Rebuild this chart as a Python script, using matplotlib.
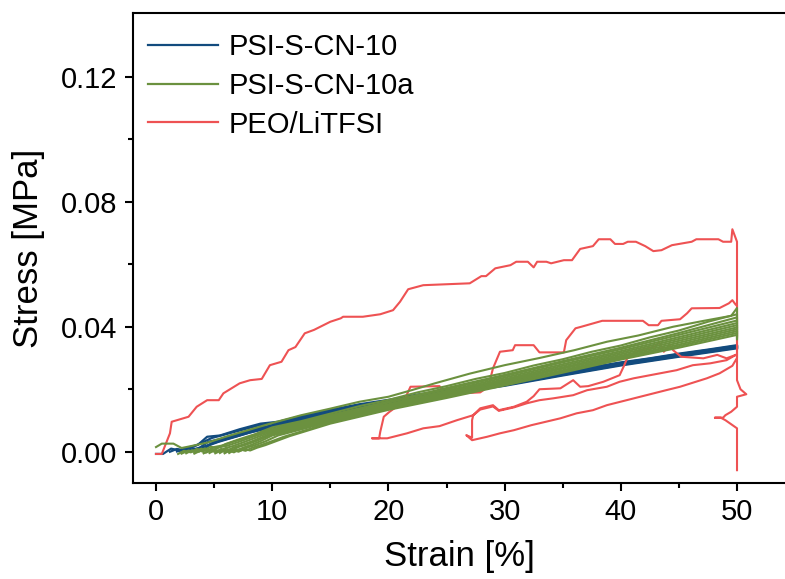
"""
Cyclic tensile test: stress-strain loops of PSI-S-CN-10, PSI-S-CN-10a and PEO/LiTFSI.
Writes out.png (785 x 579 px).
"""

import numpy as np
import matplotlib.pyplot as plt
from matplotlib.lines import Line2D
from matplotlib.ticker import FixedLocator, FormatStrFormatter

# ── Global style ──────────────────────────────────────────────────────────────
plt.rcParams.update({
    "font.family":      ["Liberation Sans", "DejaVu Sans"],
    "font.size":        21,
    "axes.linewidth":   1.5,
    "xtick.labelsize":  21,
    "ytick.labelsize":  21,
    "axes.labelsize":   25,
    "legend.fontsize":  21,
})

BLUE  = "#124B7E"
GREEN = "#6B913F"
RED   = "#EE5253"

# ── Data: PEO/LiTFSI (one continuous trace, split into cycles) ────────────────
red_load1_x = [0, 0.5, 1.2, 1.35, 2.8, 3.5, 4.4, 5.4, 5.8, 7.2, 8.1, 9.1, 9.8, 10.8,
               11.4, 12.0, 12.8, 13.6, 15.0, 15.9, 16.1, 17.8, 19.3, 20.4, 21.0, 21.7,
               23.0, 27.0, 28.0, 28.4, 29.2, 30.5, 31.0, 32.0, 32.5, 32.8, 33.6, 34.0,
               35.1, 35.8, 36.5, 37.6, 38.1, 39.1, 39.5, 40.2, 40.6, 41.3, 42.1, 42.8,
               43.5, 44.4, 46.1, 46.5, 48.4, 48.8, 49.5, 49.6, 50.0]
red_load1_y = [-0.0007, -0.0007, 0.0059, 0.0096, 0.0112, 0.0144, 0.0165, 0.0165, 0.0187,
               0.0219, 0.0229, 0.0233, 0.0277, 0.0288, 0.0325, 0.0335, 0.0379, 0.0390,
               0.0416, 0.0427, 0.0432, 0.0432, 0.0440, 0.0453, 0.0480, 0.0520, 0.0533,
               0.0539, 0.0562, 0.0562, 0.0587, 0.0597, 0.0608, 0.0608, 0.0590, 0.0608,
               0.0608, 0.0603, 0.0613, 0.0613, 0.0649, 0.0658, 0.0680, 0.0680, 0.0665,
               0.0665, 0.0672, 0.0672, 0.0658, 0.0642, 0.0645, 0.0661, 0.0672, 0.0680,
               0.0680, 0.0672, 0.0672, 0.0712, 0.0672]

red_unload1_x = [50.0, 49.9, 49.1, 47.7, 46.2, 44.8, 42.5, 41.1, 39.9, 38.8, 37.1, 35.9,
                 34.2, 33.0, 31.9, 30.8, 29.5, 29.0, 27.9, 27.3, 25.9, 24.4, 23.0, 21.6,
                 19.9, 18.6]
red_unload1_y = [0.0310, 0.0310, 0.0293, 0.0283, 0.0277, 0.0261, 0.0245, 0.0235, 0.0224,
                 0.0208, 0.0197, 0.0181, 0.0171, 0.0165, 0.0155, 0.0142, 0.0131, 0.0145,
                 0.0135, 0.0117, 0.0101, 0.0082, 0.0075, 0.0059, 0.0043, 0.0043]

red_load2_x = [19.2, 19.3, 19.6, 20.1, 21.3, 21.9, 24.4, 24.7, 26.3, 27.9, 28.6, 29.0,
               29.6, 30.7, 30.9, 32.5, 33.0, 35.1, 35.3, 36.1, 36.6, 38.4, 41.9, 42.4,
               43.2, 43.5, 45.1, 45.7, 46.1, 48.5, 49.3, 49.6, 49.9, 50.0]
red_load2_y = [0.0043, 0.0064, 0.0112, 0.0128, 0.0160, 0.0208, 0.0210, 0.0190, 0.0187,
               0.0190, 0.0208, 0.0267, 0.0320, 0.0325, 0.0341, 0.0341, 0.0318, 0.0318,
               0.0357, 0.0395, 0.0400, 0.0419, 0.0419, 0.0405, 0.0405, 0.0419, 0.0424,
               0.0443, 0.0459, 0.0460, 0.0475, 0.0485, 0.0470, 0.0470]

red_unload2_x = [50.0, 49.6, 48.5, 47.4, 45.1, 43.9, 42.2, 40.5, 38.8, 37.6, 36.2, 34.8,
                 33.0, 32.3, 30.8, 29.6, 28.5, 27.2, 26.7]
red_unload2_y = [0.0300, 0.0275, 0.0251, 0.0235, 0.0208, 0.0197, 0.0181, 0.0165, 0.0149,
                 0.0133, 0.0123, 0.0107, 0.0091, 0.0085, 0.0069, 0.0059, 0.0048, 0.0037,
                 0.0053]

red_load3_x = [27.2, 27.2, 27.3, 27.9, 29.0, 29.5, 30.8, 31.9, 32.5, 33.0, 34.8, 35.9,
               36.5, 37.2, 38.5, 39.9, 40.3, 40.6, 41.6, 42.9, 43.3, 43.7, 44.2, 44.5,
               45.2, 47.1, 48.3, 49.1, 49.9, 50.0]
red_load3_y = [0.0045, 0.0101, 0.0117, 0.0139, 0.0149, 0.0133, 0.0144, 0.0160, 0.0178,
               0.0200, 0.0203, 0.0229, 0.0208, 0.0210, 0.0224, 0.0245, 0.0277, 0.0304,
               0.0325, 0.0336, 0.0350, 0.0320, 0.0341, 0.0325, 0.0304, 0.0299, 0.0310,
               0.0299, 0.0310, 0.0310]

red_tail_x = [50.0, 50.3, 50.8, 50.0, 50.0, 49.5, 49.0, 48.8, 48.1, 48.6, 49.0, 50.0, 50.0]
red_tail_y = [0.0229, 0.0200, 0.0184, 0.0176, 0.0144, 0.0128, 0.0117, 0.0109, 0.0109,
              0.0109, 0.0101, 0.0075, -0.0059]

# ── Data: PSI-S-CN-10 (blue cycles) ───────────────────────────────────────────
blue_x = [
    [0, 0.6, 1.3, 2.0, 2.8, 3.6, 4.4, 5.5, 7.2, 9.0, 10.5, 12.4, 15, 17.5, 20, 22.5, 25,
     27.5, 30, 32.5, 35, 37.5, 40, 42.5, 45, 47.5, 50],
    [1.2, 1.8, 2.5, 3.2, 4.0, 4.8, 6.0, 7.5, 9.0, 10.5, 12.5, 15, 20, 25, 30, 35, 40, 45, 50],
    [1.8, 2.4, 3.0, 3.8, 4.5, 5.5, 6.5, 8.0, 10, 12.5, 15, 20, 25, 30, 35, 40, 45, 50],
    [2.2, 2.9, 3.6, 4.3, 5.2, 6.3, 7.5, 9.0, 10.5, 12.5, 15, 20, 25, 30, 35, 40, 45, 50],
    [2.6, 3.3, 4.0, 4.8, 5.8, 7.0, 8.5, 10, 12.5, 15, 20, 25, 30, 35, 40, 45, 50],
    [3.0, 3.7, 4.5, 5.4, 6.5, 8.0, 10, 12.5, 15, 20, 25, 30, 35, 40, 45, 50],
]
blue_y = [
    [-0.0007, -0.0007, 0.0010, 0.0004, 0.0014, 0.0022, 0.0048, 0.0052, 0.0072, 0.0090,
     0.0096, 0.0113, 0.0134, 0.0152, 0.0166, 0.0183, 0.0195, 0.0210, 0.0221, 0.0239,
     0.0254, 0.0271, 0.0286, 0.0299, 0.0314, 0.0327, 0.0341],
    [0.0000, 0.0009, 0.0004, 0.0016, 0.0030, 0.0044, 0.0056, 0.0071, 0.0086, 0.0094,
     0.0110, 0.0131, 0.0164, 0.0193, 0.0219, 0.0252, 0.0284, 0.0312, 0.0339],
    [0.0001, 0.0006, 0.0002, 0.0014, 0.0032, 0.0040, 0.0052, 0.0068, 0.0085, 0.0106,
     0.0128, 0.0162, 0.0191, 0.0217, 0.0250, 0.0282, 0.0310, 0.0337],
    [0.0002, 0.0007, 0.0003, 0.0018, 0.0034, 0.0045, 0.0058, 0.0075, 0.0088, 0.0104,
     0.0126, 0.0160, 0.0189, 0.0215, 0.0248, 0.0280, 0.0308, 0.0335],
    [0.0002, 0.0010, 0.0006, 0.0026, 0.0038, 0.0050, 0.0066, 0.0080, 0.0102, 0.0124,
     0.0158, 0.0187, 0.0213, 0.0246, 0.0278, 0.0306, 0.0333],
    [0.0003, 0.0012, 0.0020, 0.0032, 0.0044, 0.0061, 0.0078, 0.0100, 0.0122, 0.0156,
     0.0185, 0.0211, 0.0244, 0.0276, 0.0304, 0.0331],
]

# ── Data: PSI-S-CN-10a (green cycles) ─────────────────────────────────────────
green_x = [
    [0, 0.5, 1.5, 2.2, 3.0, 4.5, 6.0, 8.0, 10, 12.5, 15, 17.5, 20, 22, 24, 27, 30, 33,
     36, 38.8, 41.5, 44.5, 47, 49.5, 50, 50],
    [1.9, 2.4, 3.0, 3.5, 4.1, 4.7, 5.3, 6.0, 7.0, 8.5, 10, 12.5, 15, 17.5, 20, 22.5, 25,
     27.5, 30, 32.5, 35, 37.5, 40, 42.5, 45, 47.5, 50, 50],
    [2.2, 2.8, 3.3, 3.9, 4.4, 5.0, 5.7, 6.5, 8.0, 10, 15, 20, 25, 30, 35, 40, 45, 50, 50],
    [2.6, 3.1, 3.7, 4.2, 4.8, 5.4, 6.1, 7.0, 8.5, 10, 15, 20, 25, 30, 35, 40, 45, 50, 50],
    [3.3, 3.8, 4.3, 4.9, 5.4, 6.0, 6.6, 7.5, 8.8, 10, 15, 20, 25, 30, 35, 40, 45, 50, 50],
    [4.1, 4.6, 5.1, 5.6, 6.1, 6.7, 7.4, 8.3, 10, 15, 20, 25, 30, 35, 40, 45, 50, 50],
    [4.6, 5.1, 5.5, 6.0, 6.5, 7.0, 7.7, 8.6, 10, 15, 20, 25, 30, 35, 40, 45, 50, 50],
    [5.1, 5.6, 6.0, 6.4, 6.9, 7.5, 8.2, 9.0, 10, 15, 20, 25, 30, 35, 40, 45, 50, 50],
    [5.5, 5.9, 6.3, 6.8, 7.3, 7.9, 8.6, 9.4, 10.5, 15, 20, 25, 30, 35, 40, 45, 50, 50],
    [5.9, 6.3, 6.7, 7.2, 7.7, 8.3, 9.0, 10, 11, 15, 20, 25, 30, 35, 40, 45, 50, 50],
    [6.3, 6.7, 7.1, 7.6, 8.1, 8.7, 9.4, 10.2, 11.5, 15, 20, 25, 30, 35, 40, 45, 50, 50],
]
green_y = [
    [0.0015, 0.0026, 0.0026, 0.0012, 0.0018, 0.0030, 0.0048, 0.0070, 0.0092, 0.0117,
     0.0138, 0.0160, 0.0176, 0.0197, 0.0219, 0.0250, 0.0277, 0.0300, 0.0325, 0.0352,
     0.0372, 0.0400, 0.0418, 0.0435, 0.0460, 0.0415],
    [-0.0007, 0.0003, -0.0002, 0.0009, 0.0004, 0.0016, 0.0012, 0.0025, 0.0038, 0.0056,
     0.0078, 0.0098, 0.0122, 0.0146, 0.0166, 0.0190, 0.0210, 0.0233, 0.0252, 0.0276,
     0.0296, 0.0320, 0.0340, 0.0366, 0.0388, 0.0416, 0.0440, 0.0400],
    [-0.0006, 0.0004, -0.0001, 0.0010, 0.0003, 0.0015, 0.0020, 0.0030, 0.0048, 0.0072,
     0.0117, 0.0161, 0.0204, 0.0246, 0.0290, 0.0333, 0.0380, 0.0430, 0.0395],
    [-0.0005, 0.0005, 0.0000, 0.0011, 0.0004, 0.0014, 0.0019, 0.0030, 0.0050, 0.0068,
     0.0113, 0.0157, 0.0200, 0.0242, 0.0286, 0.0328, 0.0374, 0.0420, 0.0385],
    [-0.0006, 0.0003, -0.0003, 0.0008, 0.0002, 0.0012, 0.0018, 0.0030, 0.0048, 0.0064,
     0.0109, 0.0152, 0.0195, 0.0237, 0.0280, 0.0322, 0.0367, 0.0412, 0.0380],
    [-0.0005, 0.0005, -0.0001, 0.0009, 0.0003, 0.0014, 0.0022, 0.0034, 0.0060,
     0.0105, 0.0149, 0.0191, 0.0232, 0.0275, 0.0317, 0.0361, 0.0405, 0.0375],
    [-0.0004, 0.0006, 0.0000, 0.0010, 0.0004, 0.0014, 0.0022, 0.0034, 0.0056,
     0.0102, 0.0146, 0.0187, 0.0228, 0.0270, 0.0312, 0.0355, 0.0398, 0.0372],
    [-0.0005, 0.0004, -0.0002, 0.0008, 0.0003, 0.0013, 0.0022, 0.0034, 0.0052,
     0.0099, 0.0143, 0.0184, 0.0224, 0.0266, 0.0307, 0.0349, 0.0392, 0.0368],
    [-0.0004, 0.0005, -0.0001, 0.0009, 0.0004, 0.0014, 0.0022, 0.0033, 0.0052,
     0.0096, 0.0140, 0.0180, 0.0220, 0.0261, 0.0303, 0.0343, 0.0386, 0.0365],
    [-0.0005, 0.0004, -0.0002, 0.0008, 0.0003, 0.0013, 0.0021, 0.0034, 0.0048,
     0.0093, 0.0137, 0.0176, 0.0216, 0.0257, 0.0299, 0.0338, 0.0380, 0.0362],
    [-0.0004, 0.0005, 0.0000, 0.0009, 0.0004, 0.0013, 0.0021, 0.0032, 0.0050,
     0.0090, 0.0134, 0.0172, 0.0212, 0.0253, 0.0295, 0.0333, 0.0374, 0.0360],
]

LABELS = ["PSI-S-CN-10", "PSI-S-CN-10a", "PEO/LiTFSI"]

# ── Figure ────────────────────────────────────────────────────────────────────
W, H = 785, 579
fig = plt.figure(figsize=(W / 100, H / 100), dpi=100)
ax = fig.add_axes([133 / W, 96 / H, (W - 133) / W, 470 / H])

for xs, ys in zip(blue_x, blue_y):
    ax.plot(xs, ys, color=BLUE, linewidth=1.6, zorder=2)

red_x = np.concatenate([red_load1_x, red_unload1_x, red_load2_x,
                        red_unload2_x, red_load3_x, red_tail_x])
red_y = np.concatenate([red_load1_y, red_unload1_y, red_load2_y,
                        red_unload2_y, red_load3_y, red_tail_y])
ax.plot(red_x, red_y, color=RED, linewidth=1.5, zorder=3)

for xs, ys in zip(green_x, green_y):
    ax.plot(xs, ys, color=GREEN, linewidth=1.5, zorder=4)

ax.set_xlim(-1.98, 54.13)
ax.set_ylim(-0.0100, 0.1404)

ax.spines["right"].set_visible(False)
ax.xaxis.set_major_locator(FixedLocator([0, 10, 20, 30, 40, 50]))
ax.xaxis.set_minor_locator(FixedLocator([5, 15, 25, 35, 45]))
ax.yaxis.set_major_locator(FixedLocator([0.0, 0.04, 0.08, 0.12]))
ax.yaxis.set_minor_locator(FixedLocator([0.02, 0.06, 0.10]))
ax.yaxis.set_major_formatter(FormatStrFormatter("%.2f"))
ax.tick_params(which="major", direction="out", length=6, width=1.5,
               top=False, right=False)
ax.tick_params(which="minor", direction="out", length=3.5, width=1.5,
               top=False, right=False)
ax.tick_params(axis="both", which="major", pad=5)

ax.set_xlabel("Strain [%]", labelpad=10)
ax.set_ylabel("Stress [MPa]", labelpad=12)

handles = [Line2D([0], [0], color=c, linewidth=1.6) for c in (BLUE, GREEN, RED)]
ax.legend(handles, LABELS, loc="upper left", frameon=False,
          bbox_to_anchor=(148 / W, 1 - 33 / H), bbox_transform=fig.transFigure,
          borderaxespad=0, borderpad=0, handlelength=2.4, handletextpad=0.35,
          labelspacing=0.37)

fig.savefig("out.png", dpi=100)
